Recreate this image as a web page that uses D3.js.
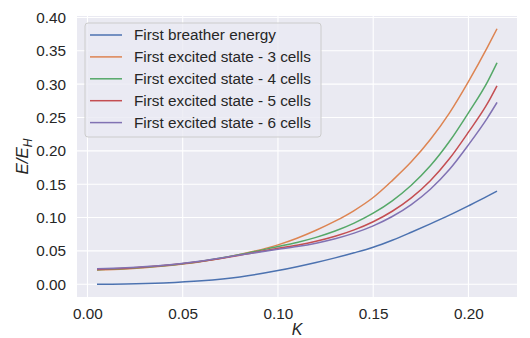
<!DOCTYPE html>
<html>
<head>
<meta charset="utf-8">
<script src="https://cdn.jsdelivr.net/npm/d3@7"></script>
<style>
  body { margin: 0; background: #fff; }
  svg text { font-family: "Liberation Sans", Arial, sans-serif; fill: #262626; }
</style>
</head>
<body>
<div id="chart"></div>
<script>
// coupling K values (x axis)
const kValues = [0.005, 0.02, 0.04, 0.06, 0.08, 0.10, 0.11, 0.12, 0.13, 0.14, 0.15, 0.16, 0.17, 0.18, 0.19, 0.20, 0.21, 0.215];

// energies E/E_H
const breather = [0.000, 0.0004, 0.0020, 0.0052, 0.0110, 0.0205, 0.0263, 0.0326, 0.0395, 0.0471, 0.0555, 0.066, 0.078, 0.0905, 0.1035, 0.1175, 0.132, 0.1397];
const cells3 = [0.0213, 0.0228, 0.0272, 0.0340, 0.0445, 0.0590, 0.0690, 0.0809, 0.0945, 0.1105, 0.1300, 0.1554, 0.1835, 0.2169, 0.2566, 0.3038, 0.3555, 0.383];
const cells4 = [0.0218, 0.0235, 0.0278, 0.0345, 0.0445, 0.0565, 0.0626, 0.0702, 0.0797, 0.0916, 0.1065, 0.1251, 0.1484, 0.1775, 0.2139, 0.2570, 0.3035, 0.332];
const cells5 = [0.0222, 0.0238, 0.0280, 0.0345, 0.0436, 0.0540, 0.0586, 0.0644, 0.0719, 0.0815, 0.0937, 0.1094, 0.1295, 0.1552, 0.1881, 0.2280, 0.2710, 0.2975];
const cells6 = [0.0233, 0.0248, 0.0285, 0.0350, 0.0437, 0.0525, 0.0565, 0.0616, 0.0682, 0.0766, 0.0875, 0.1015, 0.1195, 0.1425, 0.1720, 0.2090, 0.2495, 0.2725];

const seriesNames = ["First breather energy", "First excited state - 3 cells", "First excited state - 4 cells",
                     "First excited state - 5 cells", "First excited state - 6 cells"];
const seriesColors = ["#4C72B0", "#DD8452", "#55A868", "#C44E52", "#8172B3"];
const xTicks = [0.00, 0.05, 0.10, 0.15, 0.20];
const yTicks = [0.00, 0.05, 0.10, 0.15, 0.20, 0.25, 0.30, 0.35, 0.40];

const allSeries = [breather, cells3, cells4, cells5, cells6];

const W = 530, H = 338;
const margin = { top: 16, right: 13, bottom: 41, left: 77 };
const width = W - margin.left - margin.right,
      height = H - margin.top - margin.bottom;

const svg = d3.select("#chart").append("svg")
    .attr("width", W)
    .attr("height", H);

const g = svg.append("g")
    .attr("transform", `translate(${margin.left},${margin.top})`);

// matplotlib style 5% margins
const xMin = d3.min(kValues), xMax = d3.max(kValues);
const xPad = (xMax - xMin) * 0.05;
const yAll = allSeries.flat();
const yMin = d3.min(yAll), yMax = d3.max(yAll);
const yPad = (yMax - yMin) * 0.05;

const x = d3.scaleLinear().domain([xMin - xPad, xMax + xPad]).range([0, width]);
const y = d3.scaleLinear().domain([yMin - yPad, yMax + yPad]).range([height, 0]);

// background
g.append("rect")
    .attr("width", width)
    .attr("height", height)
    .attr("fill", "#EAEAF2");

// grid
g.append("g").selectAll("line").data(xTicks).join("line")
    .attr("x1", d => x(d)).attr("x2", d => x(d))
    .attr("y1", 0).attr("y2", height)
    .attr("stroke", "#fff").attr("stroke-width", 1.1);
g.append("g").selectAll("line").data(yTicks.filter(d => y(d) >= 0)).join("line")
    .attr("x1", 0).attr("x2", width)
    .attr("y1", d => y(d)).attr("y2", d => y(d))
    .attr("stroke", "#fff").attr("stroke-width", 1.1);

// axes (labels only, no spines)
const xAxis = g.append("g")
    .attr("transform", `translate(0,${height})`)
    .call(d3.axisBottom(x).tickValues(xTicks).tickFormat(d3.format(".2f")).tickSize(0).tickPadding(11));
const yAxis = g.append("g")
    .call(d3.axisLeft(y).tickValues(yTicks).tickFormat(d3.format(".2f")).tickSize(0).tickPadding(11));
[xAxis, yAxis].forEach(a => {
    a.select(".domain").remove();
    a.selectAll("text").attr("font-size", 15.3).attr("fill", "#262626")
        .attr("font-family", '"Liberation Sans", Arial, sans-serif');
});

// lines
const line = d3.line()
    .x((d, i) => x(kValues[i]))
    .y(d => y(d))
    .curve(d3.curveMonotoneX);

allSeries.forEach((s, i) => {
    g.append("path")
        .attr("d", line(s))
        .attr("fill", "none")
        .attr("stroke", seriesColors[i])
        .attr("stroke-width", 1.5);
});

// axis labels
svg.append("text")
    .attr("x", margin.left + width / 2)
    .attr("y", 335)
    .attr("text-anchor", "middle")
    .attr("font-size", 16)
    .attr("font-family", '"DejaVu Sans", sans-serif')
    .attr("font-style", "italic")
    .text("K");

const yl = svg.append("text")
    .attr("transform", `translate(28,${margin.top + height / 2}) rotate(-90)`)
    .attr("text-anchor", "middle")
    .attr("font-size", 17)
    .attr("font-family", '"DejaVu Sans", sans-serif')
    .attr("font-style", "italic");
yl.append("tspan").text("E/E");
yl.append("tspan").attr("font-size", 12).attr("dy", 3.5).text("H");

// legend
const legend = svg.append("g").attr("transform", "translate(85,23)");
legend.append("rect")
    .attr("width", 236)
    .attr("height", 114)
    .attr("rx", 3)
    .attr("fill", "#EAEAF2")
    .attr("fill-opacity", 0.8)
    .attr("stroke", "#CCCCCC")
    .attr("stroke-width", 1);

seriesNames.forEach((name, i) => {
    const ly = 12 + i * 21.9;
    legend.append("line")
        .attr("x1", 5).attr("x2", 37)
        .attr("y1", ly).attr("y2", ly)
        .attr("stroke", seriesColors[i])
        .attr("stroke-width", 1.5);
    legend.append("text")
        .attr("x", 49)
        .attr("y", ly + 5.3)
        .attr("font-size", 15.3)
        .text(name);
});
</script>
</body>
</html>
